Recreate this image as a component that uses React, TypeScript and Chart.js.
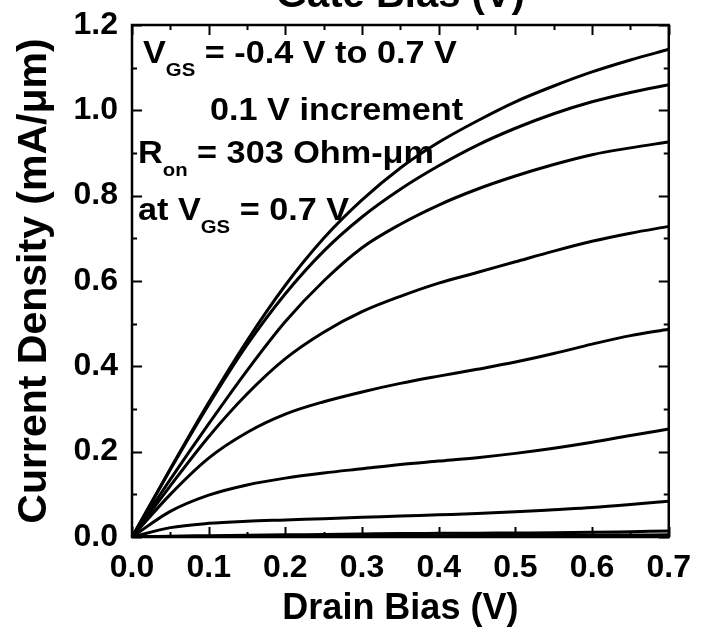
import React, { useEffect, useRef } from 'react';
import { Chart, registerables } from 'chart.js';

Chart.register(...registerables);

// Drain bias (V)
const drainBias = [0, 0.05, 0.1, 0.15, 0.2, 0.25, 0.3, 0.35, 0.4, 0.45, 0.5, 0.55, 0.6, 0.65, 0.7];

// Gate bias labels (V)
const gateBias = ['0.7', '0.6', '0.5', '0.4', '0.3', '0.2', '0.1', '0.0', '-0.1', '-0.2', '-0.3', '-0.4'];

// Current density (mA/um) for each gate bias
const idVg07 = [0, 0.16, 0.315, 0.46, 0.59, 0.7, 0.79, 0.865, 0.925, 0.975, 1.02, 1.057, 1.09, 1.118, 1.143];
const idVg06 = [0, 0.158, 0.31, 0.45, 0.57, 0.67, 0.75, 0.815, 0.87, 0.918, 0.958, 0.992, 1.02, 1.042, 1.06];
const idVg05 = [0, 0.135, 0.265, 0.39, 0.505, 0.6, 0.678, 0.733, 0.778, 0.815, 0.846, 0.873, 0.896, 0.912, 0.926];
const idVg04 = [0, 0.12, 0.235, 0.335, 0.418, 0.48, 0.528, 0.564, 0.595, 0.62, 0.645, 0.67, 0.693, 0.712, 0.728];
const idVg03 = [0, 0.1, 0.185, 0.245, 0.288, 0.317, 0.34, 0.36, 0.377, 0.393, 0.41, 0.43, 0.452, 0.472, 0.487];
const idVg02 = [0, 0.06, 0.098, 0.122, 0.138, 0.15, 0.16, 0.17, 0.178, 0.186, 0.196, 0.208, 0.222, 0.238, 0.253];
const idVg01 = [0, 0.022, 0.032, 0.037, 0.04, 0.043, 0.046, 0.049, 0.052, 0.055, 0.059, 0.064, 0.069, 0.076, 0.084];
const idVg00 = [0, 0.002, 0.003, 0.004, 0.005, 0.006, 0.007, 0.008, 0.0085, 0.009, 0.0095, 0.01, 0.011, 0.0125, 0.014];
const idVgM01 = [0, 0.0005, 0.001, 0.0013, 0.0016, 0.002, 0.0023, 0.0026, 0.003, 0.0033, 0.0036, 0.004, 0.0043, 0.0047, 0.005];
const idVgM02 = [0, 0.0002, 0.0003, 0.0004, 0.0005, 0.0006, 0.0007, 0.0008, 0.0009, 0.001, 0.0011, 0.0012, 0.0013, 0.0014, 0.0015];
const idVgM03 = [0, 0.0001, 0.0001, 0.0002, 0.0002, 0.0002, 0.0003, 0.0003, 0.0003, 0.0004, 0.0004, 0.0004, 0.0005, 0.0005, 0.0005];
const idVgM04 = [0, 0, 0, 0.0001, 0.0001, 0.0001, 0.0001, 0.0001, 0.0001, 0.0001, 0.0002, 0.0002, 0.0002, 0.0002, 0.0002];

const seriesList = [idVg07, idVg06, idVg05, idVg04, idVg03, idVg02, idVg01, idVg00, idVgM01, idVgM02, idVgM03, idVgM04];

const FONT = '"Liberation Sans", Arial, Helvetica, sans-serif';

const frameAndTicks = {
  id: 'frameAndTicks',
  afterDatasetsDraw(chart: any) {
    const { ctx, chartArea, scales } = chart;
    const { left, right, top, bottom } = chartArea;
    const xs = scales.x;
    const ys = scales.y;
    ctx.save();
    ctx.strokeStyle = '#000';
    ctx.lineWidth = 2;
    const major = 10;
    const minor = 5;
    for (let i = 0; i <= 14; i++) {
      const v = i * 0.05;
      const px = Math.round(xs.getPixelForValue(v)) + 0.5;
      const len = i % 2 === 0 ? major : minor;
      ctx.beginPath();
      ctx.moveTo(px, bottom);
      ctx.lineTo(px, bottom - len);
      ctx.moveTo(px, top);
      ctx.lineTo(px, top + len);
      ctx.stroke();
    }
    for (let i = 0; i <= 12; i++) {
      const v = i * 0.1;
      const py = Math.round(ys.getPixelForValue(v)) + 0.5;
      const len = i % 2 === 0 ? major : minor;
      ctx.beginPath();
      ctx.moveTo(left, py);
      ctx.lineTo(left + len, py);
      ctx.moveTo(right, py);
      ctx.lineTo(right - len, py);
      ctx.stroke();
    }
    ctx.lineWidth = 2.5;
    ctx.strokeRect(left, top, right - left, bottom - top);
    ctx.restore();
  },
};

const annotations = {
  id: 'annotations',
  afterDraw(chart: any) {
    const { ctx, chartArea } = chart;
    const { left, top } = chartArea;
    const main = `bold 32px ${FONT}`;
    const sub = `bold 19px ${FONT}`;
    const stretch = 1.07;
    ctx.save();
    ctx.fillStyle = '#000';
    ctx.textBaseline = 'alphabetic';
    ctx.textAlign = 'left';

    const drawParts = (x0: number, y0: number, parts: [string, boolean][]) => {
      let x = x0;
      for (const [txt, isSub] of parts) {
        ctx.font = isSub ? sub : main;
        ctx.save();
        ctx.translate(x, isSub ? y0 + 13 : y0);
        ctx.scale(stretch, 1);
        ctx.fillText(txt, 0, 0);
        ctx.restore();
        x += ctx.measureText(txt).width * stretch;
      }
    };

    drawParts(left + 11, top + 38, [['V', false], ['GS', true], [' = -0.4 V to 0.7 V', false]]);
    drawParts(left + 78, top + 95, [['0.1 V increment', false]]);
    drawParts(left + 6, top + 138, [['R', false], ['on', true], [' = 303 Ohm-\u03bcm', false]]);
    drawParts(left + 6, top + 195, [['at V', false], ['GS', true], [' = 0.7 V', false]]);
    ctx.restore();
  },
};

export default function App() {
  const canvasRef = useRef<HTMLCanvasElement | null>(null);

  useEffect(() => {
    const canvas = canvasRef.current;
    if (!canvas) return;
    const datasets = seriesList.map((vals, k) => ({
      label: `VGS = ${gateBias[k]} V`,
      data: drainBias.map((xv, i) => ({ x: xv, y: vals[i] })),
      borderColor: '#000',
      backgroundColor: '#000',
      borderWidth: 3,
      pointRadius: 0,
      cubicInterpolationMode: 'monotone' as const,
      fill: false,
    }));

    const chart = new Chart(canvas, {
      type: 'line',
      data: { datasets },
      plugins: [frameAndTicks, annotations],
      options: {
        animation: false,
        responsive: false,
        devicePixelRatio: 1,
        layout: { padding: { left: 0, right: 30, top: 0, bottom: 0 } },
        plugins: {
          legend: { display: false },
          tooltip: { enabled: false },
          title: {
            display: true,
            fullSize: false,
            text: 'Gate Bias (V)',
            color: '#000',
            font: { family: FONT, size: 40, weight: 'bold' },
            padding: { top: 2, bottom: 5 },
          },
        },
        scales: {
          x: {
            type: 'linear',
            min: 0,
            max: 0.7,
            border: { display: false },
            grid: { display: false, drawTicks: false },
            ticks: {
              stepSize: 0.1,
              padding: 12,
              color: '#000',
              font: { family: FONT, size: 32, weight: 'bold' },
              maxRotation: 0,
              autoSkip: false,
              callback: (v: any) => Number(v).toFixed(1),
            },
            title: {
              display: true,
              text: 'Drain Bias (V)',
              color: '#000',
              font: { family: FONT, size: 36, weight: 'bold' },
              padding: { top: 0, bottom: 4 },
            },
            afterFit: (scale: any) => {
              scale.height = 98;
            },
          },
          y: {
            type: 'linear',
            min: 0,
            max: 1.2,
            border: { display: false },
            grid: { display: false, drawTicks: false },
            ticks: {
              stepSize: 0.2,
              padding: 14,
              color: '#000',
              font: { family: FONT, size: 32, weight: 'bold' },
              autoSkip: false,
              callback: (v: any) => Number(v).toFixed(1),
            },
            title: {
              display: true,
              text: 'Current Density (mA/\u03bcm)',
              color: '#000',
              font: { family: FONT, size: 41, weight: 'bold' },
              padding: { top: 10, bottom: 0 },
            },
            afterFit: (scale: any) => {
              scale.width = 132;
            },
          },
        },
      },
    });
    return () => chart.destroy();
  }, []);

  return (
    <div
      style={{
        position: 'fixed',
        left: 0,
        top: 0,
        width: 703,
        height: 635,
        overflow: 'hidden',
        background: '#fff',
      }}
    >
      <canvas
        ref={canvasRef}
        width={703}
        height={665}
        style={{ position: 'absolute', left: 0, top: -30, display: 'block', width: 703, height: 665 }}
      />
    </div>
  );
}
